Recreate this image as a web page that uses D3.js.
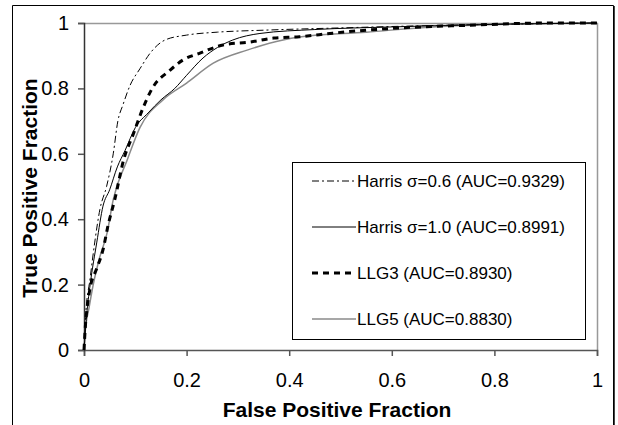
<!DOCTYPE html>
<html>
<head>
<meta charset="utf-8">
<script src="https://cdn.jsdelivr.net/npm/d3@7"></script>
<style>
  body { margin: 0; background: #fff; }
  svg { display: block; font-family: Arial, "Liberation Sans", sans-serif; }
</style>
</head>
<body>
<div id="chart"></div>
<script>
// ROC curves: [false positive fraction, true positive fraction]
const harris06 = [[0,0],[0.003,0.1],[0.012,0.22],[0.021,0.33],[0.031,0.43],[0.044,0.5],[0.057,0.6],[0.066,0.7],[0.076,0.75],[0.09,0.81],[0.109,0.86],[0.13,0.91],[0.158,0.948],[0.2,0.963],[0.26,0.972],[0.35,0.978],[0.5,0.985],[0.7,0.993],[0.85,0.997],[1,1]];
const harris10 = [[0,0],[0.006,0.12],[0.012,0.2],[0.025,0.33],[0.037,0.44],[0.05,0.49],[0.065,0.56],[0.08,0.61],[0.1,0.68],[0.125,0.725],[0.15,0.765],[0.177,0.8],[0.2,0.84],[0.232,0.893],[0.26,0.925],[0.29,0.948],[0.343,0.968],[0.45,0.98],[0.6,0.988],[0.8,0.996],[1,1]];
const llg3 = [[0,0],[0.003,0.08],[0.006,0.128],[0.012,0.19],[0.025,0.25],[0.037,0.306],[0.047,0.382],[0.06,0.46],[0.077,0.58],[0.096,0.66],[0.115,0.74],[0.133,0.8],[0.168,0.856],[0.193,0.887],[0.226,0.908],[0.271,0.933],[0.324,0.942],[0.37,0.954],[0.42,0.958],[0.485,0.969],[0.616,0.985],[0.75,0.993],[0.9,1],[1,1]];
const llg5 = [[0,0],[0.002,0.05],[0.01,0.13],[0.018,0.2],[0.03,0.28],[0.045,0.358],[0.057,0.46],[0.084,0.58],[0.109,0.68],[0.154,0.765],[0.2,0.816],[0.252,0.877],[0.318,0.917],[0.388,0.948],[0.42,0.957],[0.55,0.972],[0.68,0.988],[0.85,0.997],[1,1]];

const seriesNames = ["Harris \u03c3=0.6 (AUC=0.9329)", "Harris \u03c3=1.0 (AUC=0.8991)", "LLG3 (AUC=0.8930)", "LLG5 (AUC=0.8830)"];
const xTicks = [0, 0.2, 0.4, 0.6, 0.8, 1];
const yTicks = [0, 0.2, 0.4, 0.6, 0.8, 1];

const styles = [
    { stroke: "#000", width: 1, dash: "7,3,2,3" },
    { stroke: "#000", width: 1, dash: null },
    { stroke: "#000", width: 3, dash: "6,5" },
    { stroke: "#8a8a8a", width: 1.5, dash: null }
];
const series = [harris06, harris10, llg3, llg5];

const W = 618, H = 425;
const plot = { left: 84, right: 597, top: 23, bottom: 350 };

const svg = d3.select("#chart").append("svg")
    .attr("width", W)
    .attr("height", H);

// outer frame (runs off the bottom of the picture)
svg.append("path")
    .attr("d", "M12.5,440V5.5H613.5V440")
    .attr("fill", "none").attr("stroke", "#000").attr("stroke-width", 1);
svg.append("line")
    .attr("x1", 614.5).attr("x2", 614.5).attr("y1", 6).attr("y2", 440)
    .attr("stroke", "#444").attr("stroke-width", 1);

const x = d3.scaleLinear().domain([0, 1]).range([plot.left, plot.right]);
const y = d3.scaleLinear().domain([0, 1]).range([plot.bottom, plot.top]);

// plot border top/right (gray)
svg.append("path")
    .attr("d", `M${plot.left},${plot.top + 0.5}H${plot.right + 0.5}V${plot.bottom}`)
    .attr("fill", "none").attr("stroke", "#999").attr("stroke-width", 1.5);

const xAxis = svg.append("g")
    .attr("transform", `translate(0,${plot.bottom})`)
    .call(d3.axisBottom(x).tickValues(xTicks).tickSize(6).tickPadding(17)
        .tickFormat(d => d3.format("")(d)));
xAxis.select(".domain").attr("stroke", "#555").attr("stroke-width", 1.5);
xAxis.selectAll(".tick line").attr("stroke", "#555").attr("stroke-width", 1.5);
xAxis.selectAll("text").attr("font-size", 20).attr("font-family", "Arial, 'Liberation Sans', sans-serif").attr("fill", "#000");

const yAxis = svg.append("g")
    .attr("transform", `translate(${plot.left},0)`)
    .call(d3.axisLeft(y).tickValues(yTicks).tickSize(6).tickPadding(9)
        .tickFormat(d => d3.format("")(d)));
yAxis.select(".domain").attr("stroke", "#333").attr("stroke-width", 1.5);
yAxis.selectAll(".tick line").attr("stroke", "#555").attr("stroke-width", 1.5);
yAxis.selectAll("text").attr("font-size", 20).attr("font-family", "Arial, 'Liberation Sans', sans-serif").attr("fill", "#000");

const line = d3.line()
    .x(d => x(d[0]))
    .y(d => y(d[1]))
    .curve(d3.curveMonotoneX);

// draw gray one first so black ones sit on top
[3, 1, 2, 0].forEach(i => {
    svg.append("path")
        .datum(series[i])
        .attr("d", line)
        .attr("fill", "none")
        .attr("stroke", styles[i].stroke)
        .attr("stroke-width", styles[i].width)
        .attr("stroke-dasharray", styles[i].dash);
});

// legend
const lg = svg.append("g");
lg.append("rect")
    .attr("x", 292.5).attr("y", 162.5)
    .attr("width", 293).attr("height", 177)
    .attr("fill", "#fff").attr("stroke", "#000").attr("stroke-width", 1);

seriesNames.forEach((name, i) => {
    const ry = 181 + i * 46;
    lg.append("line")
        .attr("x1", 312).attr("x2", 356)
        .attr("y1", ry).attr("y2", ry)
        .attr("stroke", styles[i].stroke)
        .attr("stroke-width", styles[i].width)
        .attr("stroke-dasharray", styles[i].dash);
    lg.append("text")
        .attr("x", 357).attr("y", ry)
        .attr("dy", "0.35em")
        .attr("font-size", 17)
        .text(name);
});

// axis titles
svg.append("text")
    .attr("x", 337).attr("y", 417)
    .attr("text-anchor", "middle")
    .attr("font-size", 21).attr("font-weight", "bold")
    .text("False Positive Fraction");

svg.append("text")
    .attr("transform", `translate(37,188) rotate(-90)`)
    .attr("text-anchor", "middle")
    .attr("font-size", 21).attr("font-weight", "bold")
    .text("True Positive Fraction");
</script>
</body>
</html>
